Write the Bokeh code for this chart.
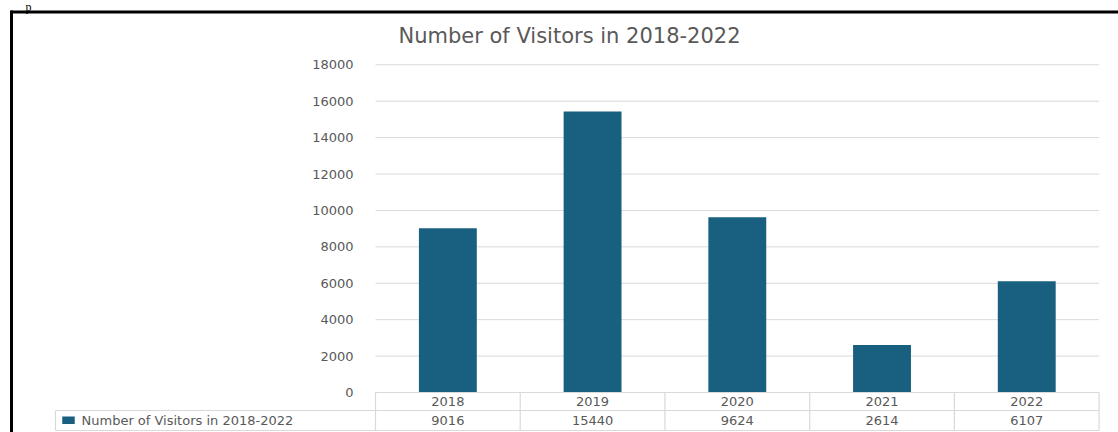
from bokeh.plotting import figure
from bokeh.models import Range1d
from bokeh.embed import file_html
from bokeh.resources import INLINE
from bokeh.core.properties import value

# ---- data ----
years = ["2018", "2019", "2020", "2021", "2022"]
visitors = [9016, 15440, 9624, 2614, 6107]
y_ticks = [0, 2000, 4000, 6000, 8000, 10000, 12000, 14000, 16000, 18000]
series_name = "Number of Visitors in 2018-2022"
title_text = "Number of Visitors in 2018-2022"

# ---- layout (pixels) ----
W_PX, H_PX = 1118, 432
PLOT_L, PLOT_R = 375.0, 1098.6
ZERO_PX, TOP_PX = 392.0, 64.3
YMAX = 18000
col_w = (PLOT_R - PLOT_L) / len(years)
s = YMAX / (ZERO_PX - TOP_PX)

BAR_COLOR = "#185F80"
TXT = "#595959"
GRID = "#d9d9d9"
FONT = value("DejaVu Sans")

p = figure(width=W_PX, height=H_PX, x_range=Range1d(0, W_PX), y_range=Range1d(H_PX, 0),
           toolbar_location=None, output_backend="svg", min_border=0,
           x_axis_location=None, y_axis_location=None)
p.outline_line_color = None
p.xgrid.visible = False
p.ygrid.visible = False
p.background_fill_color = "white"
p.border_fill_color = "white"

p.extra_x_ranges = {"cat": Range1d(-0.5 - PLOT_L / col_w, len(years) - 0.5 + (W_PX - PLOT_R) / col_w)}
p.extra_y_ranges = {"val": Range1d(-(H_PX - ZERO_PX) * s, ZERO_PX * s)}

idx = list(range(len(years)))

# gridlines
grid_vals = [t for t in y_ticks if t > 0]
p.segment(x0=[-0.5] * len(grid_vals), x1=[len(years) - 0.5] * len(grid_vals),
          y0=grid_vals, y1=grid_vals, line_color=GRID, line_width=1,
          x_range_name="cat", y_range_name="val")

# bars
p.vbar(x=idx, top=visitors, bottom=0, width=0.4, fill_color=BAR_COLOR, line_color=None,
       x_range_name="cat", y_range_name="val")

# y tick labels
p.text(x=[-0.5] * len(y_ticks), y=y_ticks, text=[f"{t}" for t in y_ticks],
       x_offset=-22, text_align="right", text_baseline="middle",
       text_font=FONT, text_font_size="13px", text_color=TXT,
       x_range_name="cat", y_range_name="val")

# title
p.text(x=[569], y=[35], text=[title_text], text_align="center",
       text_baseline="middle", text_font=FONT, text_font_size="21px", text_color=TXT)

# data table
ROW1_TOP, ROW_MID, ROW2_BOT, LEG_L = 392.0, 410.0, 430.0, 55.0
p.segment(x0=[PLOT_L, LEG_L, LEG_L], x1=[PLOT_R] * 3, y0=[ROW1_TOP, ROW_MID, ROW2_BOT],
          y1=[ROW1_TOP, ROW_MID, ROW2_BOT], line_color=GRID, line_width=1.2)
col_edges = [i - 0.5 for i in range(len(years) + 1)]
p.segment(x0=col_edges, x1=col_edges, y0=[ROW1_TOP] * len(col_edges), y1=[ROW2_BOT] * len(col_edges),
          line_color=GRID, line_width=1.2, x_range_name="cat")
p.segment(x0=[LEG_L], x1=[LEG_L], y0=[ROW_MID], y1=[ROW2_BOT], line_color=GRID, line_width=1.2)

p.text(x=idx, y=[401.0] * len(years), text=years, text_align="center", text_baseline="middle",
       text_font=FONT, text_font_size="13px", text_color=TXT, x_range_name="cat")
p.text(x=idx, y=[420.0] * len(years), text=[str(v) for v in visitors], text_align="center",
       text_baseline="middle", text_font=FONT, text_font_size="13px", text_color=TXT,
       x_range_name="cat")

# legend key in table
p.rect(x=[68], y=[419.7], width=12.5, height=7.5, fill_color=BAR_COLOR, line_color=None)
p.text(x=[81], y=[420.0], text=[series_name], text_align="left", text_baseline="middle",
       text_font=FONT, text_font_size="13px", text_color=TXT)

# frame border of the screenshot
p.segment(x0=[10, 11], x1=[W_PX, 11], y0=[11.5, 10], y1=[11.5, H_PX], line_color="black", line_width=3)

# letter from the text above the screenshot
p.text(x=[25], y=[6], text=["p"], text_align="left", text_baseline="alphabetic",
       text_font=value("Liberation Serif"), text_font_size="12px", text_color="black")

open("out.html", "w").write(file_html(p, INLINE))
